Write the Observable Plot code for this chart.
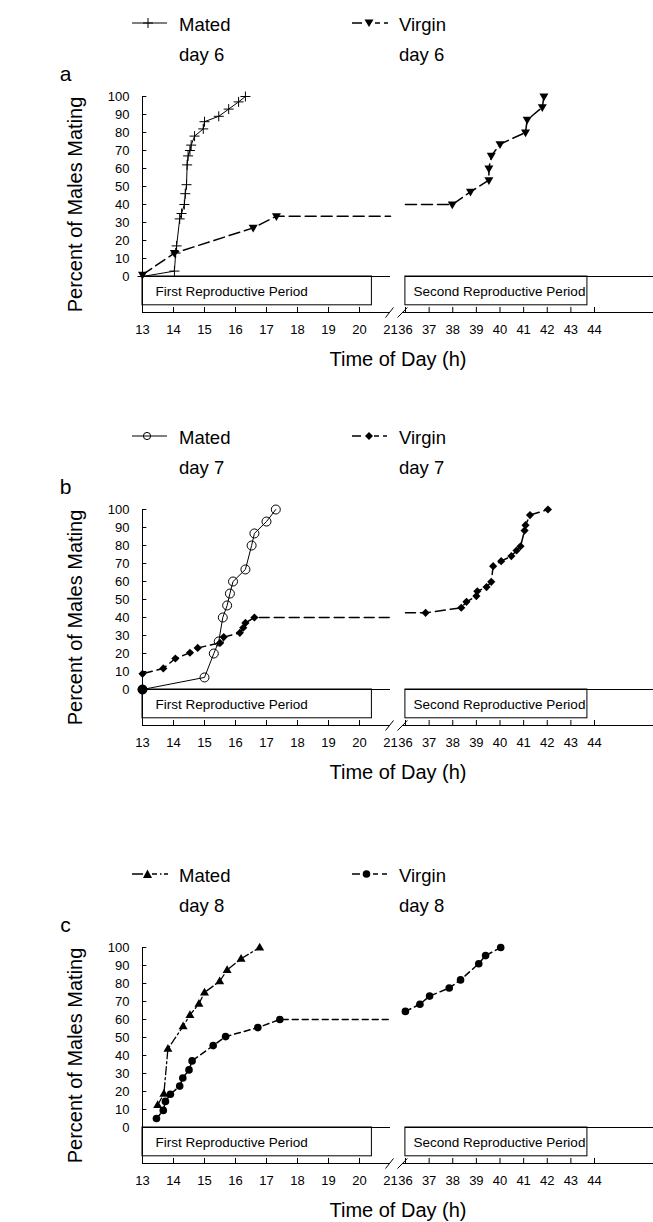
<!DOCTYPE html>
<html><head><meta charset="utf-8">
<script src="https://cdn.jsdelivr.net/npm/d3@7"></script>
<script src="https://cdn.jsdelivr.net/npm/@observablehq/plot@0.6"></script>
<style>
body{margin:0;background:#fff;font-family:"Liberation Sans",Arial,Helvetica,sans-serif;}
#page{position:relative;width:653px;height:1222px;overflow:hidden;background:#fff;}
.legend{position:absolute;left:0;width:653px;height:60px;}
.glyph{position:absolute;top:0;}
.lt{position:absolute;font-size:18.5px;line-height:30px;white-space:nowrap;color:#000;}
.panel{position:absolute;left:0;}
</style></head><body><div id="page"></div>
<script>
// ---------- data ----------
const xTicks = [13,14,15,16,17,18,19,20,21,36,37,38,39,40,41,42,43,44];
const xTickMarks = [13,14,15,16,17,18,19,20,36,37,38,39,40,41,42,43,44];
const yTicks = [0,10,20,30,40,50,60,70,80,90,100];
const periodNames = ["First Reproductive Period", "Second Reproductive Period"];
const periodStart = [13, 35.9];
const periodEnd = [20.4, 43.7];
const panelLetters = ["a", "b", "c"];
const dayLabels = ["day 6", "day 7", "day 8"];
const seriesNames = ["Mated", "Virgin"];

// panel a (day 6)
const matedD6X = [13, 14.03, 14.07, 14.1, 14.2, 14.26, 14.35, 14.38, 14.42, 14.44, 14.47, 14.53, 14.57, 14.68, 14.96, 15.0, 15.46, 15.78, 16.1, 16.32];
const matedD6Y = [0, 3, 13, 17, 32, 35, 40, 46, 51, 62, 67, 70, 73, 78, 82, 86, 89, 93, 97, 100];
const virginD6X1 = [13, 14.03, 16.57, 17.32];
const virginD6Y1 = [1, 13, 27, 33.5];
const virginD6X2 = [37.98, 38.75, 39.53, 39.53, 39.63, 40.0, 41.08, 41.15, 41.79, 41.86];
const virginD6Y2 = [40, 47, 53.5, 60, 67, 73.5, 80, 87, 94, 100];
const virginD6Carry = [33.5, 40];   // level held until 21 h / level at 36 h

// panel b (day 7)
const matedD7X = [13, 15.0, 15.3, 15.46, 15.59, 15.73, 15.82, 15.92, 16.32, 16.52, 16.61, 17.0, 17.3];
const matedD7Y = [0, 6.7, 20, 26.7, 40, 46.7, 53.3, 60, 66.7, 80, 86.7, 93.3, 100];
const virginD7X1 = [13, 13.67, 14.06, 14.53, 14.78, 15.5, 15.62, 16.14, 16.25, 16.32, 16.61];
const virginD7Y1 = [8.7, 11.7, 17.2, 20.4, 23.1, 25.9, 29.1, 31.5, 34.3, 37, 40];
const virginD7X2 = [36.85, 38.36, 38.58, 39.0, 39.04, 39.43, 39.63, 39.71, 40.05, 40.48, 40.7, 40.87, 41.04, 41.08, 41.27, 42.03];
const virginD7Y2 = [42.6, 45.4, 48.7, 51.9, 54.6, 56.9, 59.8, 68.5, 71.3, 74.1, 77.2, 79.6, 88.3, 91.3, 96.9, 100];
const virginD7Carry = [40, 42.6];

// panel c (day 8)
const matedD8X = [13.49, 13.69, 13.82, 14.31, 14.53, 14.82, 15.0, 15.49, 15.73, 16.18, 16.78];
const matedD8Y = [12.5, 18.75, 43.75, 56.25, 62.5, 68.75, 75, 81.25, 87.5, 93.75, 100];
const virginD8X1 = [13.45, 13.67, 13.74, 13.9, 14.2, 14.3, 14.5, 14.6, 15.28, 15.68, 16.72, 17.43];
const virginD8Y1 = [5, 9.5, 14.5, 18.5, 23, 27.5, 32, 37, 45.5, 50.5, 55.5, 60];
const virginD8X2 = [35.9, 36.61, 37.02, 37.85, 38.33, 39.1, 39.39, 40.03];
const virginD8Y2 = [64.5, 68.5, 73, 77.5, 82, 91, 95.5, 100];
const virginD8Carry = [60, null];

// ---------- symbols ----------
const R = s => Math.sqrt(s / Math.PI);
const symPlus = {draw(c, s){const r=R(s); c.moveTo(-r,0); c.lineTo(r,0); c.moveTo(0,-r); c.lineTo(0,r);}};
const symTriDown = {draw(c, s){const r=R(s); c.moveTo(-1.25*r,-0.85*r); c.lineTo(1.25*r,-0.85*r); c.lineTo(0,1.3*r); c.closePath();}};
const symTriUp = {draw(c, s){const r=R(s); c.moveTo(-1.25*r,0.85*r); c.lineTo(1.25*r,0.85*r); c.lineTo(0,-1.3*r); c.closePath();}};
const symDiamond = {draw(c, s){const r=R(s); c.moveTo(0,-1.2*r); c.lineTo(1.2*r,0); c.lineTo(0,1.2*r); c.lineTo(-1.2*r,0); c.closePath();}};

const panels = [
  {letter: panelLetters[0], day: dayLabels[0], zeroY: 276,
   mated: {x: matedD6X, y: matedD6Y}, virgin: {x1: virginD6X1, y1: virginD6Y1, x2: virginD6X2, y2: virginD6Y2, carry: virginD6Carry},
   mLine: {strokeWidth: 1}, mDot: {symbol: symPlus, r: 5, stroke: "#000", strokeWidth: 1, fill: "none"},
   vLine: {strokeWidth: 1.5, strokeDasharray: "11,5"}, vDot: {symbol: symTriDown, r: 3.6, fill: "#000", stroke: "none"},
   glyphs: [
     '<line x1="0" x2="35" y1="13" y2="13" stroke="#000"/><path d="M11,13H21M16,8V18" stroke="#000"/>',
     '<path d="M0,13H10M23,13H28M32,13H36" stroke="#000" stroke-width="1.3"/><path d="M12.5,9.5H21.5L17,17Z" fill="#000"/>'
   ]},
  {letter: panelLetters[1], day: dayLabels[1], zeroY: 689,
   mated: {x: matedD7X, y: matedD7Y}, virgin: {x1: virginD7X1, y1: virginD7Y1, x2: virginD7X2, y2: virginD7Y2, carry: virginD7Carry},
   mLine: {strokeWidth: 1}, mDot: {symbol: "circle", r: 4.5, stroke: "#000", strokeWidth: 1, fill: "none"}, originFilled: true,
   vLine: {strokeWidth: 1.5, strokeDasharray: "10,5"}, vDot: {symbol: symDiamond, r: 3.4, fill: "#000", stroke: "none"},
   glyphs: [
     '<line x1="0" x2="35" y1="13" y2="13" stroke="#000"/><circle cx="15" cy="13" r="3.6" fill="none" stroke="#000"/>',
     '<path d="M0,13H9M22,13H27M31,13H35" stroke="#000" stroke-width="1.3"/><path d="M17,9L21,13L17,17L13,13Z" fill="#000"/>'
   ]},
  {letter: panelLetters[2], day: dayLabels[2], zeroY: 1127,
   mated: {x: matedD8X, y: matedD8Y}, virgin: {x1: virginD8X1, y1: virginD8Y1, x2: virginD8X2, y2: virginD8Y2, carry: virginD8Carry},
   mLine: {strokeWidth: 1.3, strokeDasharray: "8,3,2,3"}, mDot: {symbol: symTriUp, r: 3.6, fill: "#000", stroke: "none"},
   vLine: {strokeWidth: 1.5, strokeDasharray: "6,4"}, vDot: {symbol: "circle", r: 3.8, fill: "#000", stroke: "none"},
   glyphs: [
     '<path d="M0,13H11M20,13H25M28,13H29.5M32,13H36" stroke="#000" stroke-width="1.3"/><path d="M11,17H20L15.5,8.5Z" fill="#000"/>',
     '<path d="M0,13H8M21,13H26M30,13H35" stroke="#000" stroke-width="1.3"/><circle cx="14.5" cy="13" r="3.8" fill="#000"/>'
   ]}
];

const pts = (xs, ys, seg) => xs.map((x, i) => ({x, y: ys[i], seg}));
const periods = periodNames.map((label, i) => ({label, x1: periodStart[i], x2: periodEnd[i]}));
const periodText = [13.42, 36.34];
const zeroSegments = [{x1: 13, x2: 21}, {x1: 35.9, x2: 46.5}];
const axisSegments = [{x1: 13, x2: 20.97}, {x1: 33, x2: 46.5}];
const breakMarks = [{x1: 20.84, x2: 24, y1: -22.8, y2: -17.2}, {x1: 28, x2: 36.08, y1: -22.8, y2: -17.2}];

const page = document.getElementById("page");
const FONT = "'Liberation Sans', Arial, Helvetica, sans-serif";

for (const p of panels) {
  // legend
  const lg = document.createElement("div");
  lg.className = "legend";
  lg.style.top = (p.zeroY - 266) + "px";
  const lefts = [132, 352];
  seriesNames.forEach((name, k) => {
    const g = document.createElement("div");
    g.className = "glyph";
    g.style.left = lefts[k] + "px";
    g.innerHTML = '<svg width="37" height="30" viewBox="0 0 37 30">' + p.glyphs[k] + '</svg>';
    lg.appendChild(g);
    const t1 = document.createElement("div");
    t1.className = "lt"; t1.style.left = (lefts[k] + 47) + "px"; t1.style.top = "0px"; t1.textContent = name;
    const t2 = document.createElement("div");
    t2.className = "lt"; t2.style.left = (lefts[k] + 47) + "px"; t2.style.top = "30px"; t2.textContent = p.day;
    lg.appendChild(t1); lg.appendChild(t2);
  });
  page.appendChild(lg);

  const matedPts = pts(p.mated.x, p.mated.y, 0);
  const v1 = pts(p.virgin.x1, p.virgin.y1, 1);
  const v2 = pts(p.virgin.x2, p.virgin.y2, 2);
  const virginLine = [...v1, {x: 21, y: p.virgin.carry[0], seg: 1},
    ...(p.virgin.carry[1] != null ? [{x: 36, y: p.virgin.carry[1], seg: 2}] : []), ...v2];

  const chart = Plot.plot({
    width: 653, height: 311,
    marginLeft: 142, marginRight: 0, marginTop: 36, marginBottom: 59,
    style: {fontFamily: FONT, fontSize: "13px", background: "transparent", overflow: "visible", color: "#000"},
    x: {type: "linear", domain: [13, 21, 36, 44, 46.5], range: [142, 390, 405, 594, 653]},
    y: {type: "linear", domain: [-20, 100], range: [252, 36]},
    marks: [
      Plot.ruleX([13], {y1: -20, y2: 100, stroke: "#000"}),
      Plot.ruleY(yTicks, {y: d => d, x1: 13, x2: 13.14, stroke: "#000"}),
      Plot.ruleY(zeroSegments, {x1: "x1", x2: "x2", y: 0, stroke: "#000"}),
      Plot.rect(periods, {x1: "x1", x2: "x2", y1: -16, y2: 0, fill: "none", stroke: "#000"}),
      Plot.text(periods, {x: (d, i) => periodText[i], y: -8.7, text: "label", textAnchor: "start", fontSize: 13.5, fill: "#000"}),
      Plot.ruleY(axisSegments, {x1: "x1", x2: "x2", y: -20, stroke: "#000"}),
      Plot.ruleX(xTickMarks, {x: d => d, y1: -20, y2: -17.2, stroke: "#000"}),
      Plot.link(breakMarks, {x1: "x1", y1: "y1", x2: "x2", y2: "y2", stroke: "#000"}),
      Plot.axisX({ticks: xTicks, tickSize: 0, tickPadding: 12, fontSize: 13, tickFormat: d => String(d), label: null}),
      Plot.axisY({ticks: yTicks, tickSize: 0, tickPadding: 13, fontSize: 13, tickFormat: d => String(d), label: null}),
      Plot.text(["Time of Day (h)"], {frameAnchor: "bottom", dy: 47, fontSize: 20, fill: "#000", textAnchor: "middle", lineAnchor: "middle"}),
      Plot.text(["Percent of Males Mating"], {frameAnchor: "left", dx: -67, rotate: -90, fontSize: 20, fill: "#000", textAnchor: "middle", lineAnchor: "middle"}),
      Plot.text([p.letter], {frameAnchor: "top-left", dx: -77, dy: -22, fontSize: 21, fill: "#000", textAnchor: "middle", lineAnchor: "middle"}),
      // series
      Plot.line(virginLine, {x: "x", y: "y", z: "seg", stroke: "#000", ...p.vLine}),
      Plot.line(matedPts, {x: "x", y: "y", stroke: "#000", ...p.mLine}),
      Plot.dot([...v1, ...v2], {x: "x", y: "y", ...p.vDot}),
      Plot.dot(matedPts, {x: "x", y: "y", ...p.mDot}),
      ...(p.originFilled ? [Plot.dot(matedPts.slice(0, 1), {x: "x", y: "y", r: 4.8, fill: "#000"})] : [])
    ]
  });
  const wrap = document.createElement("div");
  wrap.className = "panel";
  wrap.style.top = (p.zeroY - 216) + "px";
  wrap.appendChild(chart);
  page.appendChild(wrap);
}
</script></body></html>
